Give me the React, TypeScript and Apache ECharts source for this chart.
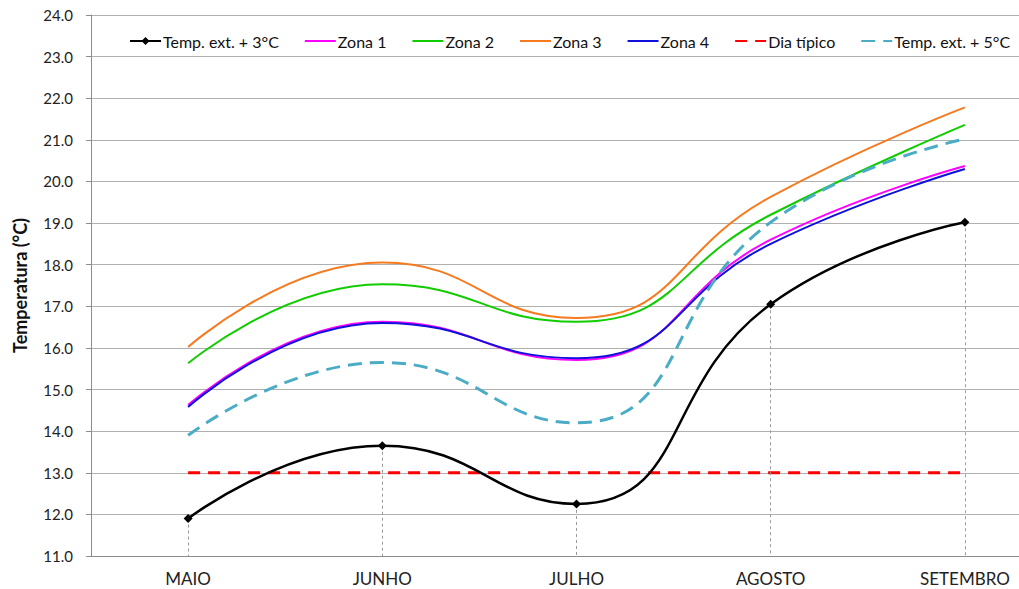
import React, { useEffect, useRef } from "react";
import * as echarts from "echarts";

// Monthly categories and temperature series (°C)
const months = ["MAIO", "JUNHO", "JULHO", "AGOSTO", "SETEMBRO"];
const tempExt3 = [11.9, 13.65, 12.25, 17.05, 19.02];
const zona1 = [14.63, 16.63, 15.71, 18.6, 20.37];
const zona2 = [15.63, 17.53, 16.63, 19.2, 21.36];
const zona3 = [16.02, 18.05, 16.72, 19.63, 21.78];
const zona4 = [14.58, 16.6, 15.75, 18.5, 20.3];
const diaTipico = [13.0, 13.0, 13.0, 13.0, 13.0];
const tempExt5 = [13.9, 15.65, 14.2, 19.02, 21.02];

const yMin = 11;
const yMax = 24;

const FONT = "Lato, 'Open Sans', sans-serif";

export default function App() {
  const ref = useRef<HTMLDivElement>(null);

  useEffect(() => {
    if (!ref.current) return;
    const chart = echarts.init(ref.current, undefined, { renderer: "svg" });

    // Dotted drop lines from each marker of the +3°C series down to the axis
    const dropLines = tempExt3.map((v, i) => [
      { coord: [i, v] },
      { coord: [i, yMin] },
    ]);

    const plain = (name: string, data: number[], color: string) => ({
      name,
      type: "line",
      data,
      smooth: 0.5,
      symbol: "none",
      lineStyle: { color, width: 2 },
      itemStyle: { color },
    });

    // Legend entries without a marker show only their line
    const lineOnly = (name: string) => ({ name, itemStyle: { opacity: 0 } });

    chart.setOption({
      animation: false,
      backgroundColor: "#ffffff",
      textStyle: { fontFamily: FONT },
      // the plot area runs past the visible right edge of the frame
      grid: { left: 91, top: 15, right: 0, bottom: 33, containLabel: false },
      legend: {
        left: 124,
        top: 28,
        itemWidth: 31,
        itemHeight: 10,
        itemGap: 25,
        textStyle: { fontSize: 16, color: "#111", fontFamily: FONT, padding: [0, 0, 0, -3] },
        data: [
          { name: "Temp. ext. + 3°C" },
          lineOnly("Zona 1"),
          lineOnly("Zona 2"),
          lineOnly("Zona 3"),
          lineOnly("Zona 4"),
          lineOnly("Dia típico"),
          lineOnly("Temp. ext. + 5°C"),
        ],
      },
      xAxis: {
        type: "category",
        data: months,
        boundaryGap: true,
        axisLine: { lineStyle: { color: "#8c8c8c", width: 1 } },
        axisTick: { show: false },
        axisLabel: { fontSize: 17, lineHeight: 17, color: "#222", margin: 14, fontFamily: FONT },
        splitLine: { show: false },
      },
      yAxis: {
        type: "value",
        min: yMin,
        max: yMax,
        interval: 1,
        name: "Temperatura (°C)",
        nameLocation: "middle",
        nameGap: 62,
        nameRotate: 90,
        nameTextStyle: { fontSize: 18, color: "#111", fontWeight: "bold", fontFamily: FONT },
        axisLine: { show: true, lineStyle: { color: "#8c8c8c", width: 1 } },
        axisTick: { show: true, length: 5, lineStyle: { color: "#8c8c8c" } },
        axisLabel: {
          fontSize: 15,
          color: "#222",
          margin: 18,
          fontFamily: FONT,
          formatter: (v: number) => v.toFixed(1),
        },
        splitLine: { show: true, lineStyle: { color: "#b0b0b0", width: 1 } },
      },
      series: [
        {
          name: "Temp. ext. + 3°C",
          type: "line",
          data: tempExt3,
          smooth: 0.5,
          symbol: "diamond",
          symbolSize: 9,
          z: 5,
          lineStyle: { color: "#000000", width: 2.5 },
          itemStyle: { color: "#000000" },
          markLine: {
            silent: true,
            symbol: ["none", "none"],
            label: { show: false },
            lineStyle: { color: "#9a9a9a", type: [3, 3], width: 1 },
            data: dropLines,
          },
        },
        plain("Zona 1", zona1, "#ff00ff"),
        plain("Zona 2", zona2, "#11cc00"),
        plain("Zona 3", zona3, "#f57a20"),
        plain("Zona 4", zona4, "#1010dd"),
        {
          name: "Dia típico",
          type: "line",
          data: diaTipico,
          symbol: "none",
          lineStyle: { color: "#ff0000", width: 3, type: [12, 8] },
          itemStyle: { color: "#ff0000" },
        },
        {
          name: "Temp. ext. + 5°C",
          type: "line",
          data: tempExt5,
          smooth: 0.5,
          symbol: "none",
          lineStyle: { color: "#4bacc6", width: 3, type: [14, 8] },
          itemStyle: { color: "#4bacc6" },
        },
      ],
    });

    return () => chart.dispose();
  }, []);

  return (
    <div
      style={{
        width: 1019,
        height: 589,
        position: "absolute",
        left: 0,
        top: 0,
        overflow: "hidden",
        background: "#ffffff",
      }}
    >
      <div ref={ref} style={{ width: 1062, height: 589 }} />
    </div>
  );
}
